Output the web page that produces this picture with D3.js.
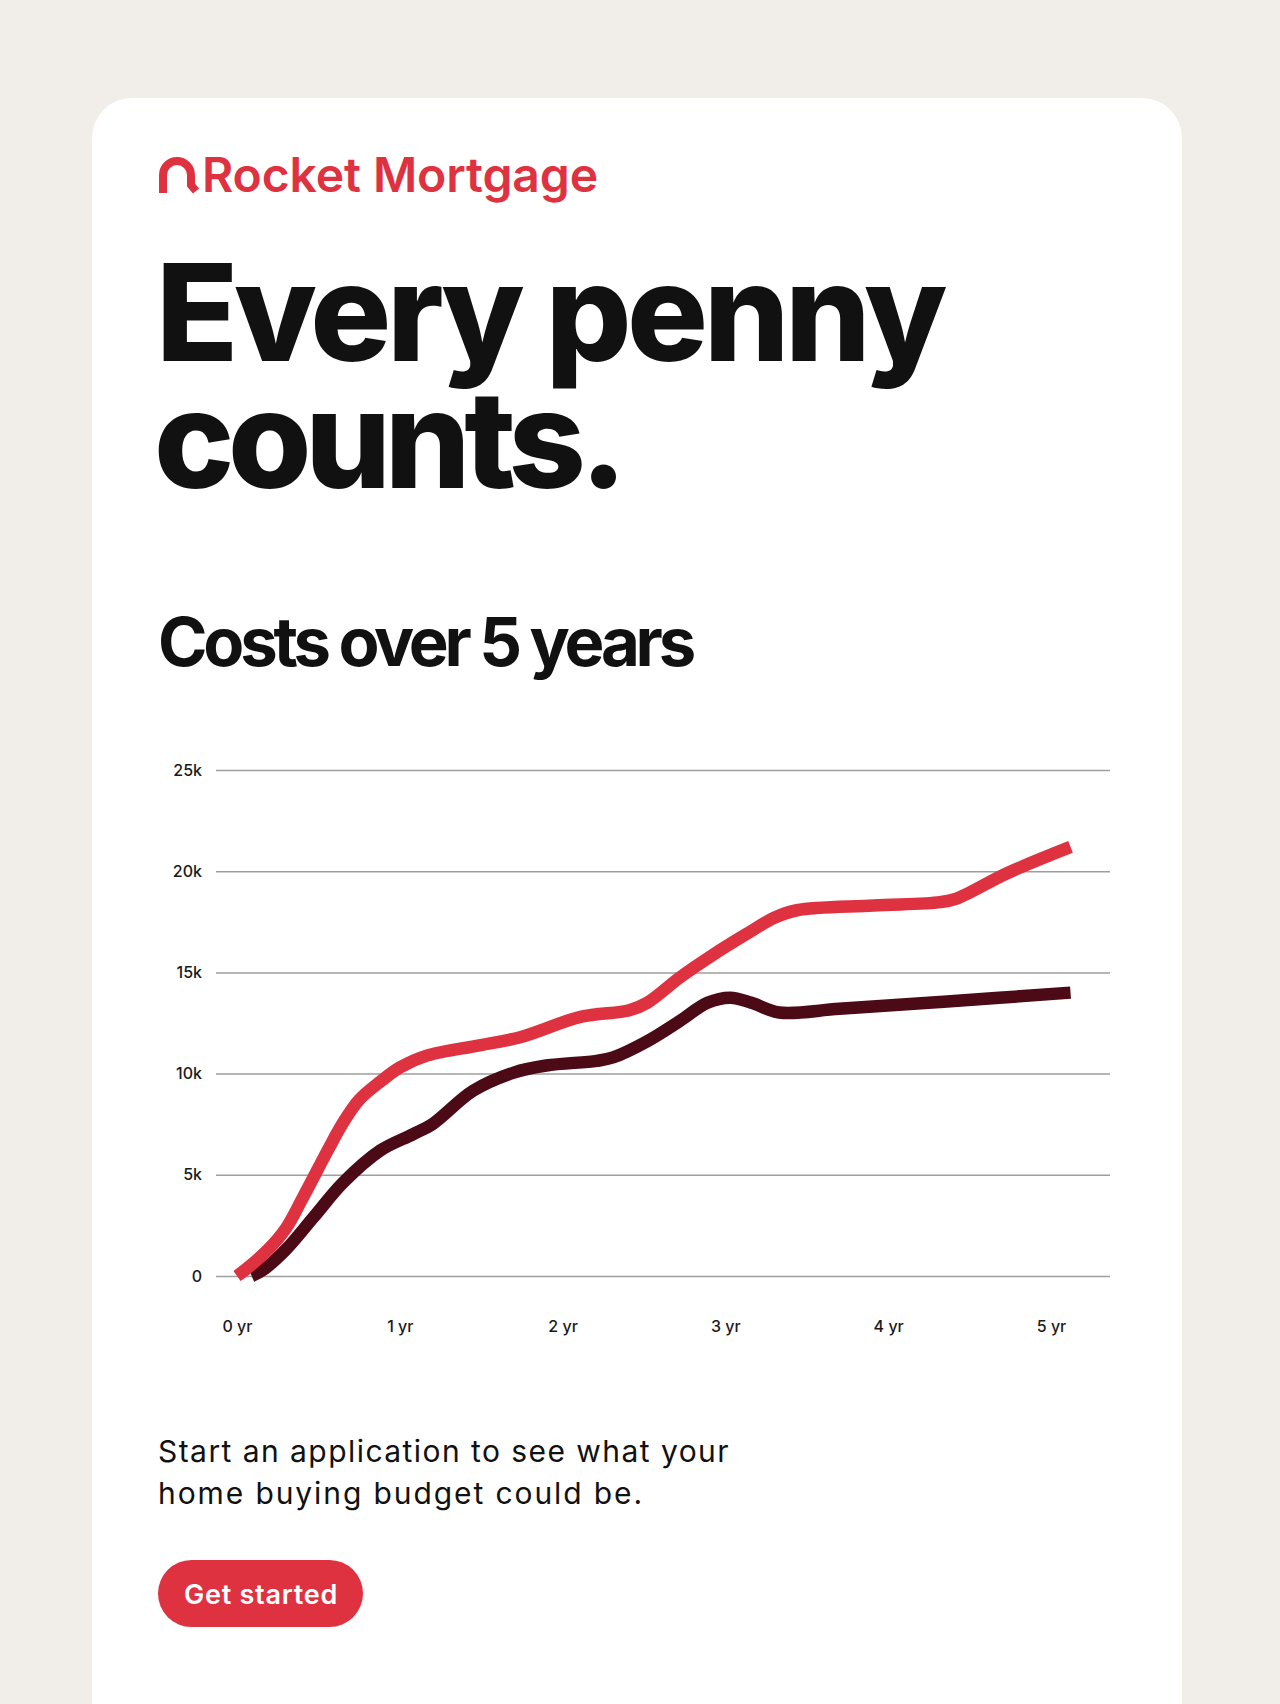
<!DOCTYPE html>
<html>
<head>
<meta charset="utf-8">
<script src="https://cdn.jsdelivr.net/npm/d3@7"></script>
<style>
  html, body { margin: 0; padding: 0; background: #f1ede9; }
  svg { display: block; font-family: Inter, "Noto Sans", sans-serif; }
</style>
</head>
<body>
<svg id="chart" width="1280" height="1704"></svg>
<script>
// years on the x axis, cost in dollars on the y axis
var yearTicks = [0, 1, 2, 3, 4, 5];
var costTicks = [0, 5000, 10000, 15000, 20000, 25000];

// red line (higher cost)
var redYears = [0, 0.05, 0.19, 0.3, 0.4, 0.56, 0.65, 0.75, 0.88, 1.0, 1.17, 1.49, 1.74,
    2.11, 2.41, 2.52, 2.72, 2.92, 3.13, 3.3, 3.44, 3.91, 4.32, 4.42, 4.73, 5.12];
var redCosts = [0, 300, 1300, 2350, 3800, 6250, 7550, 8700, 9600, 10300, 10900, 11400, 11800,
    12800, 13130, 13500, 14750, 15850, 16900, 17700, 18070, 18300, 18470, 18650, 19900, 21200];

// dark line (lower cost)
var darkYears = [0.09, 0.16, 0.3, 0.47, 0.65, 0.88, 1.08, 1.2, 1.45, 1.7, 1.9, 2.21, 2.31,
    2.52, 2.72, 2.89, 3.03, 3.16, 3.33, 3.7, 4.32, 5.12];
var darkCosts = [0, 300, 1300, 2900, 4600, 6200, 7000, 7500, 9150, 10050, 10400, 10630, 10800,
    11600, 12600, 13500, 13750, 13500, 13020, 13200, 13540, 14000];

var red = "#df3241",
    dark = "#4b0a15",
    ink = "#111111",
    gridColor = "#9e9e9e";

var svg = d3.select("#chart");

// stretch/squeeze letter spacing so a text fills the width seen in the reference
function fitWidth(sel, target) {
    var node = sel.node();
    var n = sel.text().length;
    var ls = 0;
    for (var k = 0; k < 3; k++) {
        var w = node.getComputedTextLength();
        ls += (target - w) / n;
        sel.attr("letter-spacing", ls);
    }
    return sel;
}

// card
svg.append("rect")
    .attr("x", 92)
    .attr("y", 98)
    .attr("width", 1090)
    .attr("height", 1704)
    .attr("rx", 40)
    .attr("ry", 40)
    .style("fill", "#ffffff");

// logo mark
svg.append("path")
    .attr("d", "M163,193 V175 A14,14 0 0 1 191,175 V185 L196,191")
    .style("fill", "none")
    .style("stroke", red)
    .style("stroke-width", 8);

var logo = svg.append("text")
    .attr("x", 202)
    .attr("y", 192)
    .style("font-size", "48px")
    .style("font-weight", 600)
    .style("fill", red)
    .text("Rocket Mortgage");
fitWidth(logo, 396);

// headline, one text block with two lines
var head = svg.append("text")
    .style("font-size", "135px")
    .style("font-weight", 800)
    .style("fill", ink);
var head1 = head.append("tspan")
    .attr("x", 156)
    .attr("y", 361)
    .text("Every penny");
fitWidth(head1, 787);
var head2 = head.append("tspan")
    .attr("x", 154)
    .attr("y", 488)
    .text("counts.");
fitWidth(head2, 467);

var sub = svg.append("text")
    .attr("x", 158)
    .attr("y", 666)
    .style("font-size", "67px")
    .style("font-weight", 700)
    .style("fill", ink)
    .text("Costs over 5 years");
fitWidth(sub, 534);

// chart
var x = d3.scaleLinear().domain([0, 5]).range([237, 1051]);
var y = d3.scaleLinear().domain([0, 25000]).range([1276, 770]);
var gridLeft = 216, gridRight = 1110;

var yAxis = svg.append("g")
    .attr("transform", "translate(" + gridLeft + ",0)")
    .call(d3.axisLeft(y)
        .tickValues(costTicks)
        .tickSize(-(gridRight - gridLeft))
        .tickPadding(14)
        .tickFormat(function(d) { return d === 0 ? "0" : (d / 1000) + "k"; }));
yAxis.select(".domain").remove();
yAxis.selectAll(".tick line")
    .style("stroke", gridColor)
    .style("stroke-width", 1.5);
yAxis.selectAll(".tick text")
    .style("font-family", "Inter, sans-serif")
    .style("font-size", "16px")
    .style("font-weight", 500)
    .style("fill", "#1a1a1a");

var xAxis = svg.append("g")
    .attr("transform", "translate(0," + y(0) + ")")
    .call(d3.axisBottom(x)
        .tickValues(yearTicks)
        .tickSize(0)
        .tickPadding(45)
        .tickFormat(function(d) { return d + " yr"; }));
xAxis.select(".domain").remove();
xAxis.selectAll(".tick text")
    .style("font-family", "Inter, sans-serif")
    .style("font-size", "16px")
    .style("font-weight", 500)
    .style("fill", "#1a1a1a");

var line = d3.line()
    .x(function(d) { return x(d[0]); })
    .y(function(d) { return y(d[1]); })
    .curve(d3.curveCatmullRom.alpha(0.5));

svg.append("path")
    .datum(d3.zip(darkYears, darkCosts))
    .attr("d", line)
    .style("fill", "none")
    .style("stroke", dark)
    .style("stroke-width", 12.5)
    .style("stroke-linecap", "butt")
    .style("stroke-linejoin", "round");

svg.append("path")
    .datum(d3.zip(redYears, redCosts))
    .attr("d", line)
    .style("fill", "none")
    .style("stroke", red)
    .style("stroke-width", 12.5)
    .style("stroke-linecap", "butt")
    .style("stroke-linejoin", "round");

// call to action
var body1 = svg.append("text")
    .attr("x", 158)
    .attr("y", 1462)
    .style("font-size", "30px")
    .style("font-weight", 400)
    .style("fill", ink)
    .text("Start an application to see what your");
fitWidth(body1, 572);

var body2 = svg.append("text")
    .attr("x", 158)
    .attr("y", 1504)
    .style("font-size", "30px")
    .style("font-weight", 400)
    .style("fill", ink)
    .text("home buying budget could be.");
fitWidth(body2, 486);

svg.append("rect")
    .attr("x", 158)
    .attr("y", 1560)
    .attr("width", 205)
    .attr("height", 67)
    .attr("rx", 33.5)
    .attr("ry", 33.5)
    .style("fill", red);

var btn = svg.append("text")
    .attr("x", 184)
    .attr("y", 1604)
    .style("font-size", "27px")
    .style("font-weight", 600)
    .style("fill", "#ffffff")
    .text("Get started");
fitWidth(btn, 154);
</script>
</body>
</html>
